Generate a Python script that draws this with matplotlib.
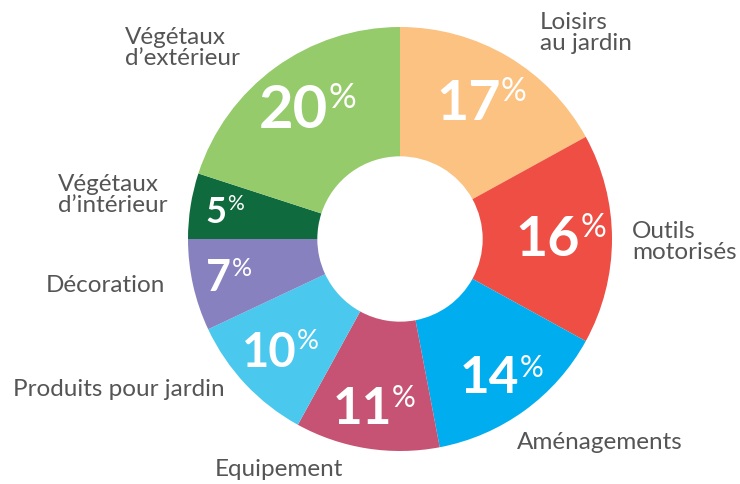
import numpy as np
import matplotlib.pyplot as plt

# slices, clockwise from 12 o'clock
categories = ["Loisirs\nau jardin", "Outils\nmotorisés", "Aménagements", "Equipement",
              "Produits pour jardin", "Décoration", "Végétaux\nd’intérieur", "Végétaux\nd’extérieur"]
shares = [17, 16, 14, 11, 10, 7, 5, 20]
colors = ["#FBC281", "#EE4E43", "#00AEEF", "#C65374", "#4AC8EE", "#8881BF", "#0F6B3D", "#95CB6B"]

# pixel layout (image coords, y down)
W, H = 740, 485
cx, cy, R = 400, 240, 212
num_sizes = [40, 40, 37, 37, 34, 31, 26, 43]
num_r = [0.745, 0.755, 0.81, 0.81, 0.78, 0.83, 0.84, 0.75]
label_pos = [(540, 33, "left"), (632, 242, "left"), (517, 443, "left"), (215, 470, "left"),
             (225, 390, "right"), (165, 285, "right"), (58, 195, "left"), (125, 48, "left")]

fig = plt.figure(figsize=(W / 100, H / 100), dpi=100)
ax = fig.add_axes([0, 0, 1, 1])

wedges, _ = ax.pie(shares, colors=colors, startangle=90, counterclock=False,
                   center=(cx, H - cy), radius=R, frame=True,
                   wedgeprops=dict(width=R * 0.61, linewidth=0))
ax.set_xlim(0, W)
ax.set_ylim(0, H)
ax.set_aspect("equal")
ax.axis("off")

for w, s, fs, rr in zip(wedges, shares, num_sizes, num_r):
    ang = np.deg2rad((w.theta1 + w.theta2) / 2)
    x = cx + R * rr * np.cos(ang)
    y = (H - cy) + R * rr * np.sin(ang)
    t = ax.text(x - fs * 0.3, y, str(s), color="white", fontsize=fs, fontfamily="Lato",
                fontweight="bold", ha="center", va="center")
    ax.annotate("%", xy=(1.0, 1.04), xycoords=t, color="white", fontsize=fs * 0.58,
                fontfamily="Lato", fontweight="normal", ha="left", va="top")

for (lx, ly, ha), name in zip(label_pos, categories):
    ax.text(lx, H - ly, name, color="#555555", fontsize=17.5, fontfamily="Lato",
            ha=ha, va="center", linespacing=1.05)

fig.savefig("out.png", dpi=100)
